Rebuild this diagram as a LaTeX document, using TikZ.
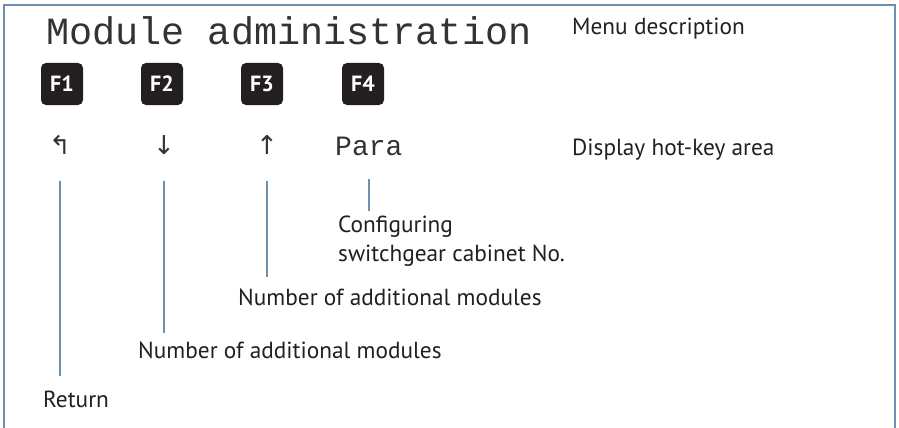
\documentclass[tikz,border=0pt]{standalone}
\usepackage{fontspec}
\setmainfont{PT Sans}
\newfontfamily\lcdfont{Liberation Mono}
\newfontfamily\symfont{DejaVu Sans}
\usetikzlibrary{positioning}
\definecolor{ink}{HTML}{231F20}
\definecolor{rail}{HTML}{6F8FAE}

\begin{document}
\begin{tikzpicture}[x=1pt,y=-1pt,
  lbl/.style={font=\fontsize{23.3}{29}\selectfont,text=ink,inner sep=0pt,align=left},
  fkey/.style={fill=ink,rounded corners=5pt,minimum size=42pt,inner sep=0pt,text=white,font=\fontsize{22}{24}\selectfont\bfseries},
  hot/.style={font=\fontsize{26}{28}\symfont,text=black!80,inner sep=0pt},
  lcd/.style={text=black!80,inner sep=0pt},
  conn/.style={draw=rail,line width=2pt}]
\useasboundingbox (0,0) rectangle (899,428);
% frame, open at the bottom
\draw[rail,line width=1.5pt] (4,428) -- (4,5) -- (895,5) -- (895,428);
% display text
\node[lcd,anchor=base west,font=\fontsize{38.5}{42}\lcdfont] (title) at (46,45) {Module administration};
\node[lbl,anchor=base west] (menu) at (572,35) {Menu description};
\foreach \x/\n in {62/1,162/2,262/3,363/4}{
  \node[fkey] (f\n) at (\x,84) {F\n};
}
% hot-key area
\node[hot] (kret) at (60,145) {↰};
\node[hot] (kdn) at (164,145) {↓};
\node[hot] (kup) at (267,145) {↑};
\node[lcd,anchor=base west,font=\fontsize{28}{30}\lcdfont] (kpara) at (335,155) {Para};
\node[lbl,anchor=base west] (area) at (572,155) {Display hot-key area};
% descriptions
\node[lbl,anchor=base west] (tret) at (43,407) {Return};
\node[lbl,anchor=base west] (tdn) at (138,358) {Number of additional modules};
\node[lbl,anchor=base west] (tup) at (238,305) {Number of additional modules};
\node[lbl,anchor=north west] (tpara) at (338,216) {Configuring\\switchgear cabinet No.};
\draw[conn,shorten >=14pt] (kret.south) ++(0,26) -- (kret.south |- tret.north);
\draw[conn,shorten >=8pt] (kdn.south) ++(0,26) -- (kdn.south |- tdn.north);
\draw[conn,shorten >=11pt] (kup.south) ++(0,26) -- (kup.south |- tup.north);
\draw[conn,shorten >=5pt] (kpara.south) ++(0,24) -- (kpara.south |- tpara.north);
\end{tikzpicture}
\end{document}
